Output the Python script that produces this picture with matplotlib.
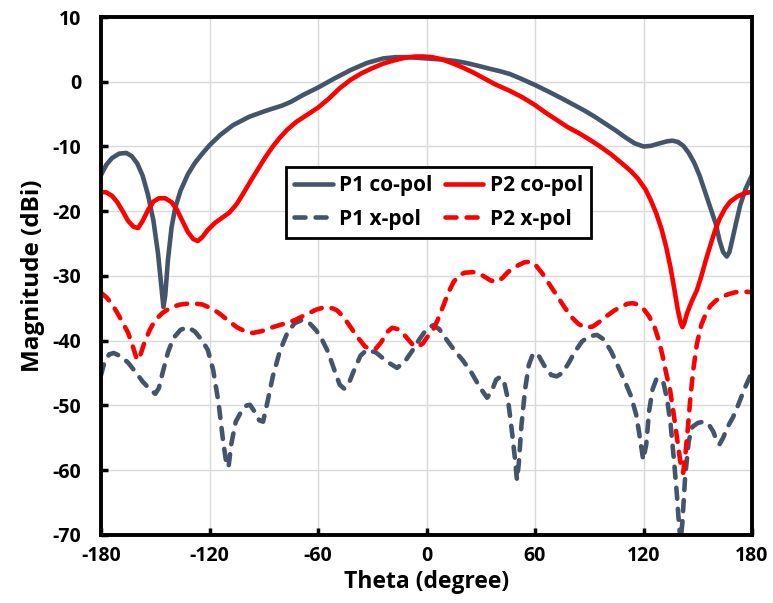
import numpy as np
import matplotlib
matplotlib.use('Agg')
import matplotlib.pyplot as plt

plt.rcParams['font.family'] = ['Open Sans', 'DejaVu Sans']
plt.rcParams['font.weight'] = 'bold'
plt.rcParams['axes.unicode_minus'] = False

SLATE = '#44546a'
RED = '#ff0000'

# P1 co-pol
p1_co_theta = [-180, -177, -174, -170, -166, -163, -160, -157, -154, -151, -148.5, -146.5,
               -145.5, -144.5, -143, -141, -139, -136, -132, -128, -124, -120, -114, -107,
               -98, -88, -80, -75, -68, -60, -51, -42, -33, -24, -17, -11, -5, 0, 5, 10,
               16, 22, 28, 35, 41, 46, 52, 60, 68, 75, 81, 87, 93, 99, 105, 110, 115, 120,
               124, 129, 133, 136, 139, 142, 145, 148, 151, 154, 157, 160, 162, 164, 166,
               167.5, 169, 171, 173.5, 176.5, 180]
p1_co = [-14.4, -12.8, -11.8, -11.1, -11.0, -11.5, -12.6, -14.5, -17.5, -21.5, -26.5, -32.0,
         -34.8, -33.0, -27.5, -22.5, -19.5, -16.8, -14.3, -12.5, -11.1, -9.8, -8.2, -6.7,
         -5.4, -4.4, -3.7, -3.1, -2.0, -0.9, 0.5, 1.8, 2.9, 3.6, 3.8, 3.8, 3.7, 3.6, 3.5,
         3.4, 3.2, 2.9, 2.5, 2.0, 1.6, 1.2, 0.5, -0.5, -1.6, -2.6, -3.5, -4.4, -5.4, -6.5,
         -7.6, -8.6, -9.5, -10.0, -9.9, -9.5, -9.2, -9.1, -9.3, -9.9, -11.0, -12.5, -14.5,
         -17.0, -19.5, -22.0, -24.5, -26.3, -27.0, -26.3, -24.5, -22.0, -19.0, -16.5, -14.4]

# P2 co-pol
p2_co_theta = [-180, -177, -174, -171, -168, -165, -162, -159.5, -157, -154, -151, -148,
               -144.5, -141, -138, -135, -132, -129, -126.5, -124, -121, -117, -113, -109,
               -105, -101, -97, -93, -89, -85, -81, -77, -72, -66, -60, -54, -48, -42, -36,
               -30, -24, -18, -12, -6, -2, 3, 8, 14, 20, 26, 32, 38, 46, 53, 60, 66, 72,
               78, 84, 90, 96, 102, 108, 113, 117, 121, 124, 127, 130, 132.5, 135, 137,
               139, 140.5, 141.5, 142.5, 144, 146.5, 149.5, 152, 154.5, 157, 159.5, 162,
               165, 168, 172, 176, 180]
p2_co = [-17.0, -17.1, -17.6, -18.6, -20.0, -21.5, -22.4, -22.6, -21.5, -19.8, -18.5, -18.0,
         -18.0, -18.6, -19.8, -21.5, -23.2, -24.3, -24.6, -24.0, -22.9, -21.8, -21.0, -20.2,
         -18.9, -17.1, -15.2, -13.4, -11.6, -10.0, -8.6, -7.4, -6.2, -5.1, -4.0, -2.6, -1.0,
         0.3, 1.3, 2.1, 2.8, 3.3, 3.7, 3.9, 3.9, 3.8, 3.5, 2.9, 2.2, 1.4, 0.5, -0.4, -1.4,
         -2.4, -3.6, -4.8, -5.9, -7.0, -7.9, -8.9, -10.0, -11.2, -12.6, -13.8, -15.0, -16.6,
         -18.3, -20.3, -22.8, -25.5, -28.8, -32.0, -35.3, -37.2, -37.9, -37.3, -35.8, -34.0,
         -32.2, -30.0, -27.5, -25.2, -23.0, -21.2, -19.6, -18.5, -17.7, -17.2, -17.0]

# P1 x-pol
p1_x_theta = [-180, -178, -175.5, -173, -169, -165, -161, -157, -153, -150, -148, -146,
              -143, -140, -136, -132, -128, -124, -121, -118, -115, -112.5, -110.5, -109.5,
              -108, -105.5, -102, -99.5, -97.6, -95, -92.5, -90.4, -88, -85, -81, -77, -73,
              -68.8, -65, -61, -57.5, -54.5, -51, -48, -45.5, -43, -40, -36.5, -33, -28,
              -22, -16.3, -12, -8, -4, 0, 3.6, 7, 11, 16, 20, 25, 29.5, 33.5, 36, 38.5,
              40.7, 43, 45, 47, 49, 50, 51, 52.5, 54.5, 56.5, 59, 62, 65, 69, 72, 75, 78.5,
              82, 86, 90, 94.3, 98, 102, 106, 110, 113, 116, 118, 119.8, 121.5, 123, 125,
              127, 129, 131, 133, 135, 137, 138.5, 139.5, 140.5, 141.5, 143, 145, 147, 150,
              153, 156, 158.5, 160.5, 162, 164, 166.5, 169.5, 172.5, 176, 180]
p1_x = [-45.3, -43.2, -42.1, -41.9, -42.4, -43.4, -44.8, -46.3, -47.5, -48.2, -47.3, -45.0,
        -41.8, -39.6, -38.3, -37.9, -38.6, -40.0, -41.4, -44.5, -49.6, -55.5, -59.3, -59.5,
        -56.0, -52.5, -50.7, -50.0, -49.9, -51.0, -52.3, -52.5, -49.5, -45.5, -41.5, -38.8,
        -37.3, -36.8, -37.2, -38.4, -40.0, -41.7, -44.5, -46.8, -47.4, -46.6, -44.5, -42.3,
        -41.4, -41.8, -43.2, -44.2, -43.2, -41.6, -39.8, -38.2, -37.6, -38.2, -39.8, -41.7,
        -43.0, -45.0, -47.2, -48.8, -47.8, -46.0, -45.6, -46.5, -49.0, -53.5, -58.5, -61.5,
        -59.0, -53.0, -47.5, -43.8, -41.9, -42.3, -43.8, -45.3, -45.5, -45.0, -43.5, -41.7,
        -40.1, -39.3, -39.1, -39.8, -41.6, -44.0, -46.5, -48.5, -51.5, -55.0, -58.4, -56.0,
        -51.0, -47.5, -46.0, -45.8, -46.5, -49.0, -53.0, -59.0, -64.0, -68.0, -71.0, -68.0,
        -61.0, -55.5, -53.3, -52.7, -52.5, -52.9, -54.0, -55.5, -56.0, -55.0, -53.3, -51.8,
        -49.8, -47.3, -44.8]

# P2 x-pol
p2_x_theta = [-180, -177, -174, -171, -168, -165, -162.5, -160.5, -159.5, -158, -156, -153,
              -150, -146, -141, -136, -129.7, -124, -119, -115, -110, -105, -100, -96, -91,
              -85, -79, -72.7, -67, -61, -56, -52, -49.5, -46, -42, -38, -34, -31, -28, -25,
              -22, -19, -16, -12, -8, -5, -2, 1, 3.6, 6, 9, 12, 15, 18, 21, 25.7, 29, 32,
              35.5, 39, 42, 45, 48, 51, 54, 57.3, 60, 64, 68, 72, 76, 80, 84, 88, 92, 96,
              100, 104, 108, 111, 114, 117, 120, 123, 126, 128.5, 130.5, 132.5, 134.6,
              136.5, 138.5, 140.5, 141.9, 143, 144.5, 146, 147.5, 149.5, 152, 154.5, 157,
              160, 163.5, 167, 171, 175, 180]
p2_x = [-32.6, -33.3, -34.3, -35.7, -37.2, -38.8, -40.8, -42.6, -43.0, -42.0, -40.3, -38.3,
        -36.8, -35.7, -34.8, -34.4, -34.2, -34.4, -35.0, -35.7, -36.8, -37.9, -38.6, -38.8,
        -38.5, -37.9, -37.4, -36.8, -36.0, -35.2, -34.8, -35.0, -35.3, -36.3, -37.9, -39.5,
        -40.9, -41.3, -41.2, -40.2, -38.7, -38.0, -38.2, -39.2, -40.5, -41.0, -40.4, -39.2,
        -38.3, -36.9, -34.8, -32.6, -30.9, -29.9, -29.5, -29.4, -29.6, -30.1, -30.7, -30.9,
        -30.3, -29.4, -28.8, -28.3, -27.9, -27.8, -28.2, -29.6, -31.3, -33.0, -34.7, -36.3,
        -37.4, -38.0, -37.8, -37.0, -36.1, -35.3, -34.7, -34.3, -34.2, -34.4, -35.1, -36.2,
        -37.8, -40.0, -42.3, -45.0, -47.5, -51.0, -55.0, -59.0, -60.4, -58.0, -53.5, -48.5,
        -44.5, -40.5, -37.5, -35.8, -34.6, -33.8, -33.2, -32.8, -32.5, -32.4, -32.5]

fig = plt.figure(figsize=(7.73, 6.03), dpi=100)
ax = fig.add_axes([0.1307, 0.1128, 0.8422, 0.8590])

LW = 3.3
l1, = ax.plot(p1_co_theta, p1_co, color=SLATE, lw=LW, solid_capstyle='round',
              solid_joinstyle='round', label='P1 co-pol')
l2, = ax.plot(p2_co_theta, p2_co, color=RED, lw=LW, solid_capstyle='round',
              solid_joinstyle='round', label='P2 co-pol')
l3, = ax.plot(p1_x_theta, p1_x, color=SLATE, lw=LW, dashes=(2.4, 2.2), dash_capstyle='round',
              dash_joinstyle='round', label='P1 x-pol')
l4, = ax.plot(p2_x_theta, p2_x, color=RED, lw=LW, dashes=(2.4, 2.2), dash_capstyle='round',
              dash_joinstyle='round', label='P2 x-pol')

ax.set_xlim(-180, 180)
ax.set_ylim(-70, 10)
ax.set_xticks(np.arange(-180, 181, 60))
ax.set_yticks(np.arange(-70, 11, 10))
ax.grid(True, color='#d9d9d9', lw=1)
ax.set_axisbelow(True)
for s in ax.spines.values():
    s.set_linewidth(2.8)
    s.set_color('black')
ax.tick_params(direction='in', length=5, width=2.5, labelsize=14)
ax.tick_params(axis='x', pad=8)
ax.tick_params(axis='y', pad=14)
for lbl in ax.get_xticklabels() + ax.get_yticklabels():
    lbl.set_fontweight('bold')

ax.set_xlabel('Theta (degree)', fontsize=16.5, fontweight='bold', labelpad=3)
ax.set_ylabel('Magnitude (dBi)', fontsize=17.5, fontweight='bold', labelpad=6)

# column-wise fill: co-pol on the first row, x-pol on the second
leg = ax.legend([l1, l3, l2, l4], ['P1 co-pol', 'P1 x-pol', 'P2 co-pol', 'P2 x-pol'],
                ncol=2, loc='upper left', bbox_to_anchor=(0.268, 0.731), fancybox=False,
                edgecolor='black', framealpha=1, handlelength=1.85, columnspacing=0.6,
                handletextpad=0.3, borderpad=0.4, labelspacing=0.6,
                prop={'weight': 'bold', 'size': 15})
leg.get_frame().set_linewidth(2)

fig.savefig('out.png', dpi=100)
